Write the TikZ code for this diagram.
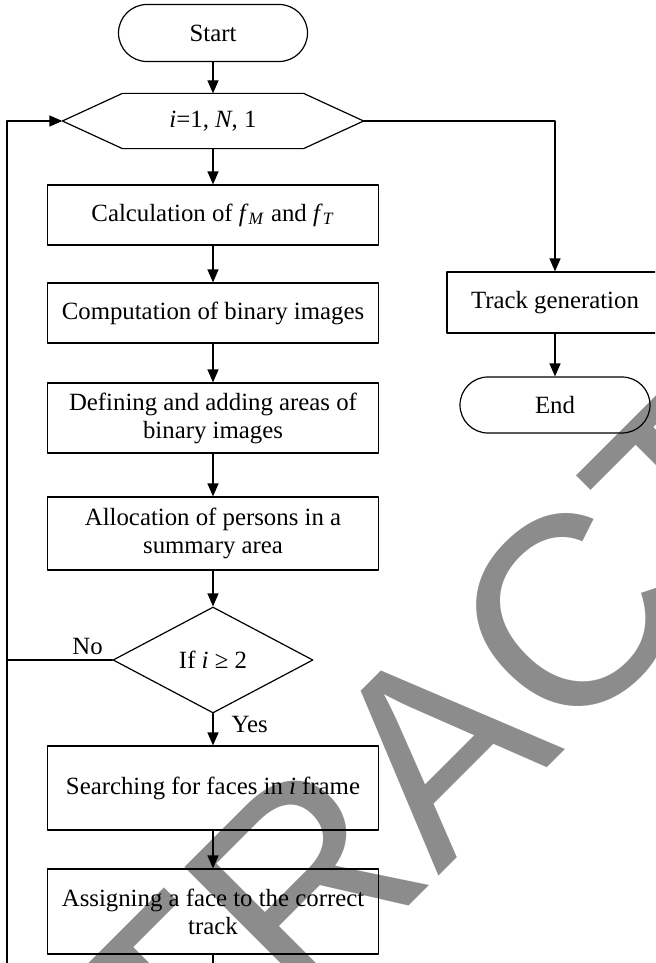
\documentclass[tikz,border=0pt]{standalone}
\usepackage{fontspec}
\setmainfont{Liberation Serif}
\newfontfamily\markfont{Liberation Sans}
\usetikzlibrary{arrows.meta}
\usetikzlibrary{positioning}
\usetikzlibrary{shapes.geometric}

\tikzset{
  stepbox/.style={draw,rectangle,minimum width=165.5pt,align=center,inner sep=2pt},
  termbox/.style={draw,rectangle,rounded corners=14pt,minimum width=95pt,minimum height=28pt},
  answer/.style={inner sep=0pt}
}

\begin{document}
\begin{tikzpicture}[line cap=round,line join=round,>={Triangle[length=6.5pt,width=5.5pt]},x=0.5pt,y=-0.5pt,line width=0.6pt,font=\fontsize{12.4}{14}\selectfont]
\useasboundingbox (0,0) rectangle (655,963);
\clip (0,0) rectangle (655,963);
\node[termbox,minimum width=94.5pt,minimum height=28.5pt,rounded corners=14.25pt] (start) at (213,33) {Start};
\node[minimum width=150pt,minimum height=27pt] (loop) at (213,121) {\textit{i}=1, \textit{N}, 1};
\draw (loop.west) -- ([xshift=30pt]loop.north west) -- ([xshift=-30pt]loop.north east) -- (loop.east) -- ([xshift=-30pt]loop.south east) -- ([xshift=30pt]loop.south west) -- cycle;
\node[stepbox,minimum height=30pt] (calc) at (213,215) {Calculation of \textit{f}\textsubscript{\textit{M}} and \textit{f}\textsubscript{\textit{T}}};
\node[stepbox,minimum height=30pt] (comp) at (213,313) {Computation of binary images};
\node[stepbox,minimum height=35pt] (defn) at (213,418) {Defining and adding areas of\\binary images};
\node[stepbox,minimum height=36.5pt] (alloc) at (213,533.5) {Allocation of persons in a\\summary area};
\node[draw,diamond,minimum width=100pt,minimum height=53pt,inner sep=0pt] (cond) at (213,660) {If \textit{i} ≥ 2};
\node[stepbox,minimum height=42pt] (search) at (213,788) {Searching for faces in \textit{i} frame};
\node[stepbox,minimum height=42.5pt] (assign) at (213,911.5) {Assigning a face to the correct\\track};
\node[stepbox,minimum width=108pt,minimum height=30.5pt] (track) at (555,302.5) {Track generation};
\node[termbox] (end) at (555,405) {End};
\coordinate (back) at (7,990);
\node[answer,above left=2.5pt and 4.5pt of cond.west] (no) {No};
\node[answer,below right=1pt and 9pt of cond.south] (yes) {Yes};
\draw [->] (start) -- (loop);
\draw [->] (loop) -- (calc);
\draw [->] (calc) -- (comp);
\draw [->] (comp) -- (defn);
\draw [->] (defn) -- (alloc);
\draw [->] (alloc) -- (cond);
\draw [->] (cond) -- (search);
\draw [->] (search) -- (assign);
\draw [->] (loop.east) -| (track.north);
\draw [->] (track) -- (end);
\draw (cond.west) -- (cond.west -| back);
\draw [->] (assign.south) -- (assign.south |- back) -- (back) -- (back |- loop.west) -- (loop.west);
\node[anchor=base west,rotate=45,inner sep=0pt,text=black,text opacity=0.45,font=\markfont\fontsize{135}{135}\selectfont] (mark) at (-82,1397) {RETRACTED};
\end{tikzpicture}
\end{document}
